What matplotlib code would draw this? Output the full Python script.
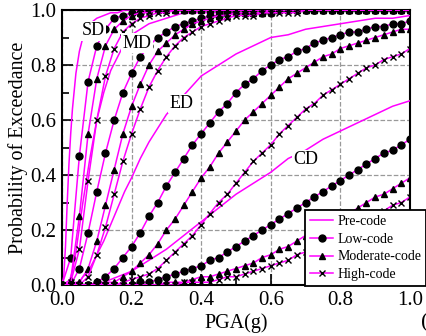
import matplotlib
matplotlib.use("Agg")
import matplotlib.pyplot as plt
from matplotlib.ticker import FormatStrFormatter

plt.rcParams['font.family'] = ['Liberation Serif', 'DejaVu Serif']

# PGA values where the curves were read (markers every 0.025 g)
pga = [0.0, 0.025, 0.05, 0.075, 0.1, 0.125, 0.15, 0.175, 0.2, 0.225, 0.25, 0.275, 0.3, 0.325,
       0.35, 0.375, 0.4, 0.425, 0.45, 0.475, 0.5, 0.525, 0.55, 0.575, 0.6, 0.625, 0.65, 0.675,
       0.7, 0.725, 0.75, 0.775, 0.8, 0.825, 0.85, 0.875, 0.9, 0.925, 0.95, 0.975, 1.0]
# pre-code lines read at these PGA values
pga_pre = [0.0, 0.005, 0.01, 0.015, 0.02, 0.025, 0.03, 0.04, 0.05, 0.06, 0.07, 0.08, 0.1, 0.12,
           0.14, 0.16, 0.18, 0.2, 0.225, 0.25, 0.3, 0.35, 0.4, 0.45, 0.5, 0.55, 0.6, 0.65, 0.7,
           0.75, 0.8, 0.85, 0.9, 0.95, 1.0]

# Pre-code: SD, MD, ED, CD
pre_sd = [0, .03, .14, .30, .44, .55, .64, .77, .85, .90, .93, .95, .97, .98, .99, .99, 1, 1, 1, 1,
          1, 1, 1, 1, 1, 1, 1, 1, 1, 1, 1, 1, 1, 1, 1]
pre_md = [0, 0, 0, 0, .01, .03, .05, .12, .21, .30, .38, .46, .60, .70, .78, .83, .88, .91, .93, .95,
          .97, .99, .99, .99, 1, 1, 1, 1, 1, 1, 1, 1, 1, 1, 1]
pre_ed = [0, 0, 0, 0, 0, 0, 0, .01, .01, .03, .04, .06, .11, .16, .22, .28, .34, .39, .46, .52,
          .62, .69, .76, .80, .84, .87, .90, .91, .93, .94, .95, .96, .97, .97, .98]
pre_cd = [0, 0, 0, 0, 0, 0, 0, 0, 0, 0, 0, 0, .01, .01, .02, .03, .04, .05, .07, .09,
          .13, .18, .23, .28, .33, .37, .41, .46, .49, .53, .56, .59, .62, .65, .67]

# Low-code
low_sd = [0, .10, .47, .74, .87, .93, .97, .98, .99, .99, 1, 1, 1, 1, 1, 1, 1, 1, 1, 1, 1,
          1, 1, 1, 1, 1, 1, 1, 1, 1, 1, 1, 1, 1, 1, 1, 1, 1, 1, 1, 1]
low_md = [0, 0, .06, .19, .34, .48, .60, .70, .77, .83, .87, .90, .92, .94, .95, .96, .97, .98, .98, .99,
          .99, .99, .99, .99, .99, 1, 1, 1, 1, 1, 1, 1, 1, 1, 1, 1, 1, 1, 1, 1, 1]
low_ed = [0, 0, 0, 0, .01, .03, .06, .10, .14, .19, .25, .30, .36, .41, .46, .51, .55, .59, .63, .66,
          .70, .73, .75, .78, .80, .82, .83, .85, .86, .88, .89, .90, .91, .92, .92, .93, .94, .94, .95, .95, .96]
low_cd = [0, 0, 0, 0, 0, 0, 0, 0, 0, .01, .01, .02, .03, .04, .05, .06, .07, .09, .10, .12,
          .14, .16, .18, .20, .22, .24, .26, .28, .30, .32, .34, .36, .38, .40, .42, .44, .46, .48, .49, .51, .53]

# Moderate-code
mod_sd = [0, .02, .25, .55, .75, .87, .93, .96, .98, .99, .99, 1, 1, 1, 1, 1, 1, 1, 1, 1, 1,
          1, 1, 1, 1, 1, 1, 1, 1, 1, 1, 1, 1, 1, 1, 1, 1, 1, 1, 1, 1]
mod_md = [0, 0, .01, .06, .16, .29, .42, .55, .65, .73, .80, .85, .88, .91, .93, .95, .96, .97, .98, .98,
          .99, .99, .99, .99, 1, 1, 1, 1, 1, 1, 1, 1, 1, 1, 1, 1, 1, 1, 1, 1, 1]
mod_ed = [0, 0, 0, 0, 0, .01, .01, .03, .05, .08, .11, .15, .20, .24, .29, .34, .39, .43, .48, .52,
          .56, .60, .63, .66, .69, .72, .75, .77, .79, .81, .83, .84, .86, .87, .88, .89, .90, .91, .92, .93, .93]
mod_cd = [0, 0, 0, 0, 0, 0, 0, 0, 0, 0, 0, 0, .01, .01, .01, .02, .03, .03, .04, .05,
          .06, .07, .08, .10, .11, .13, .14, .16, .18, .19, .21, .23, .24, .26, .28, .30, .32, .33, .35, .37, .39]

# High-code
high_sd = [0, .01, .13, .38, .60, .76, .86, .92, .95, .97, .98, .99, .99, 1, 1, 1, 1, 1, 1, 1, 1,
           1, 1, 1, 1, 1, 1, 1, 1, 1, 1, 1, 1, 1, 1, 1, 1, 1, 1, 1, 1]
high_md = [0, 0, 0, .03, .11, .21, .33, .45, .55, .64, .72, .78, .83, .87, .90, .92, .94, .95, .96, .97,
           .98, .98, .98, .99, .99, .99, .99, .99, 1, 1, 1, 1, 1, 1, 1, 1, 1, 1, 1, 1, 1]
high_ed = [0, 0, 0, 0, 0, 0, 0, .01, .02, .03, .04, .06, .09, .12, .15, .18, .22, .26, .30, .33,
           .37, .41, .45, .48, .51, .55, .58, .61, .64, .66, .69, .71, .73, .75, .77, .79, .80, .82, .83, .84, .86]
high_cd = [0, 0, 0, 0, 0, 0, 0, 0, 0, 0, 0, 0, 0, 0, .01, .01, .01, .01, .02, .03,
           .03, .04, .05, .06, .07, .08, .09, .11, .12, .13, .15, .17, .18, .20, .22, .23, .25, .27, .29, .30, .32]

damage_labels = ['SD', 'MD', 'ED', 'CD']
label_x = [0.089, 0.215, 0.344, 0.70]
label_y = [0.924, 0.88, 0.66, 0.455]

mag = '#ff00ff'

fig = plt.figure(figsize=(4.27, 3.36), dpi=100)
ax = fig.add_axes([62/427, 51/336, 348/427, 275/336])

for i, ys in enumerate([pre_sd, pre_md, pre_ed, pre_cd]):
    ax.plot(pga_pre, ys, color=mag, lw=1.1, zorder=3, label='Pre-code' if i == 0 else None)

groups = [([low_sd, low_md, low_ed, low_cd], 'o', 'Low-code'),
          ([mod_sd, mod_md, mod_ed, mod_cd], '^', 'Moderate-code'),
          ([high_sd, high_md, high_ed, high_cd], 'x', 'High-code')]
for curves, mk, name in groups:
    for i, ys in enumerate(curves):
        ax.plot(pga, ys, color=mag, lw=1.1, marker=mk, ms=5, mfc='black', mec='black',
                mew=1, zorder=3, label=name if i == 0 else None)

for t, x, y in zip(damage_labels, label_x, label_y):
    ax.text(x, y, t, fontsize=13, ha='center', va='center', zorder=5,
            bbox=dict(facecolor='white', edgecolor='none', pad=1))

ax.set_xlim(0, 1)
ax.set_ylim(0, 1)
ax.set_xticks([0, 0.2, 0.4, 0.6, 0.8, 1.0])
ax.set_yticks([0, 0.2, 0.4, 0.6, 0.8, 1.0])
ax.set_xticks([0.1, 0.3, 0.5, 0.7, 0.9], minor=True)
ax.set_yticks([0.1, 0.3, 0.5, 0.7, 0.9], minor=True)
ax.xaxis.set_major_formatter(FormatStrFormatter('%.1f'))
ax.yaxis.set_major_formatter(FormatStrFormatter('%.1f'))
ax.tick_params(direction='in', labelsize=15, length=8, width=1.2, pad=4)
ax.tick_params(which='minor', direction='in', length=5, width=1.2)
ax.grid(True, ls='--', color='#999999', lw=0.9)
for s in ax.spines.values():
    s.set_linewidth(1.5)
ax.set_xlabel('PGA(g)', fontsize=14.5, labelpad=3)
ax.set_ylabel('Probability of Exceedance', fontsize=14.5, labelpad=2)

leg = ax.legend(loc='lower left', bbox_to_anchor=(0.698, -0.004), fontsize=10, numpoints=1,
                handlelength=1.7, handletextpad=0.3, labelspacing=0.35, borderpad=0.35,
                borderaxespad=0, fancybox=False, framealpha=1, edgecolor='black')
leg.get_frame().set_linewidth(1.3)
leg.set_zorder(10)

# panel tag, cut by the right edge as in the original figure
fig.text(0.986, 0.01, '(a)', fontsize=16, ha='left', va='bottom')

fig.savefig('out.png', dpi=100)
